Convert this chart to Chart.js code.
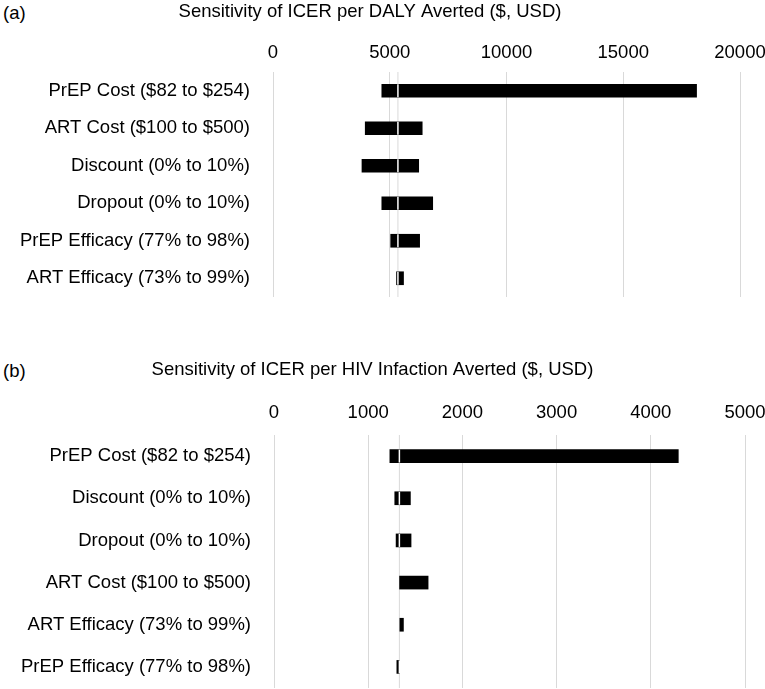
<!DOCTYPE html>
<html>
<head>
<meta charset="utf-8">
<script src="https://cdn.jsdelivr.net/npm/chart.js@4.4.0/dist/chart.umd.min.js"></script>
<style>
  body { margin: 0; background: #fff; font-family: "Liberation Sans", Arial, sans-serif; }
  .wrap { position: relative; width: 765px; height: 689px; }
  .panel { position: absolute; left: 0; }
  .tag { position: absolute; left: 3px; font-size: 18.5px; line-height: 22px; color: #000; }
</style>
</head>
<body>
<div class="wrap">
  <div class="tag" style="top:2px">(a)</div>
  <canvas id="dalyChart" class="panel" width="765" height="300" style="top:0"></canvas>
  <div class="tag" style="top:360px">(b)</div>
  <canvas id="hivChart" class="panel" width="765" height="333" style="top:356px"></canvas>
</div>
<script>
// Panel (a): ICER per DALY averted
const dalyTitle = "Sensitivity of ICER per DALY Averted ($, USD)";
const dalyLabels = ["PrEP Cost ($82 to $254)", "ART Cost ($100 to $500)", "Discount (0% to 10%)",
  "Dropout (0% to 10%)", "PrEP Efficacy (77% to 98%)", "ART Efficacy (73% to 99%)"];
const dalyLow = [4660, 3950, 3810, 4660, 5040, 5290];
const dalyHigh = [18140, 6390, 6240, 6840, 6280, 5590];
const dalyBase = 5350;
const dalyTicks = [0, 5000, 10000, 15000, 20000];

// Panel (b): ICER per HIV infection averted
const hivTitle = "Sensitivity of ICER per HIV Infaction Averted ($, USD)";
const hivLabels = ["PrEP Cost ($82 to $254)", "Discount (0% to 10%)", "Dropout (0% to 10%)",
  "ART Cost ($100 to $500)", "ART Efficacy (73% to 99%)", "PrEP Efficacy (77% to 98%)"];
const hivLow = [1230, 1282, 1296, 1333, 1336, 1304];
const hivHigh = [4292, 1448, 1455, 1636, 1374, 1331];
const hivBase = 1331;
const hivTicks = [0, 1000, 2000, 3000, 4000, 5000];

const FONT = "'Liberation Sans', Arial, sans-serif";
const FONT_SIZE = 18.5;

// Draws the base case line: grey across the plot, white where it crosses a bar
const baseLinePlugin = {
  id: 'baseLine',
  beforeDatasetsDraw(chart, args, opts) {
    const ctx = chart.ctx, area = chart.chartArea;
    const x = chart.scales.x.getPixelForValue(opts.value);
    ctx.save();
    ctx.strokeStyle = '#d9d9d9';
    ctx.lineWidth = 1;
    ctx.beginPath();
    ctx.moveTo(x, area.top);
    ctx.lineTo(x, area.bottom);
    ctx.stroke();
    ctx.restore();
  },
  afterDatasetsDraw(chart, args, opts) {
    const ctx = chart.ctx;
    const x = chart.scales.x.getPixelForValue(opts.value);
    ctx.save();
    ctx.strokeStyle = '#ffffff';
    ctx.lineWidth = 1.5;
    chart.getDatasetMeta(0).data.forEach(function (bar) {
      const p = bar.getProps(['x', 'y', 'base', 'height'], true);
      const lo = Math.min(p.x, p.base), hi = Math.max(p.x, p.base);
      if (x >= lo && x <= hi) {
        ctx.beginPath();
        ctx.moveTo(x, p.y - p.height / 2);
        ctx.lineTo(x, p.y + p.height / 2);
        ctx.stroke();
      }
    });
    ctx.restore();
  }
};

function makeChart(id, cfg) {
  const ticks = cfg.ticks;
  return new Chart(document.getElementById(id), {
    type: 'bar',
    data: {
      labels: cfg.labels,
      datasets: [{
        data: cfg.low.map(function (v, i) { return [v, cfg.high[i]]; }),
        backgroundColor: '#000000',
        borderWidth: 0,
        barThickness: 13
      }]
    },
    options: {
      indexAxis: 'y',
      responsive: false,
      animation: false,
      layout: { padding: { left: 0, right: cfg.padRight, top: 0, bottom: cfg.padBottom } },
      plugins: {
        legend: { display: false },
        tooltip: { enabled: false },
        title: {
          display: true,
          text: cfg.title,
          color: '#000',
          font: { family: FONT, size: FONT_SIZE, weight: 'normal' },
          padding: { top: cfg.titleTop, bottom: cfg.titleBottom }
        },
        baseLine: { value: cfg.base }
      },
      scales: {
        x: {
          position: 'top',
          min: ticks[0],
          max: ticks[ticks.length - 1],
          afterBuildTicks: function (scale) {
            scale.ticks = ticks.map(function (v) { return { value: v }; });
          },
          afterFit: function (scale) {
            // keep the plot edges where the reference has them
            scale.height = cfg.axisTop;
            scale.paddingLeft = 0;
            scale.paddingRight = 0;
          },
          ticks: {
            color: '#000',
            font: { family: FONT, size: FONT_SIZE },
            padding: cfg.tickPad,
            maxRotation: 0,
            callback: function (v) { return String(v); }
          },
          grid: { color: '#d9d9d9', lineWidth: 1, drawTicks: false },
          border: { display: false }
        },
        y: {
          afterFit: function (scale) {
            scale.width = cfg.axisLeft;
            scale.paddingTop = 0;
            scale.paddingBottom = 0;
          },
          ticks: {
            color: '#000',
            font: { family: FONT, size: FONT_SIZE },
            padding: 23
          },
          grid: { display: false, drawTicks: false },
          border: { display: false }
        }
      }
    },
    plugins: [baseLinePlugin]
  });
}

makeChart('dalyChart', {
  title: dalyTitle, labels: dalyLabels, low: dalyLow, high: dalyHigh, base: dalyBase, ticks: dalyTicks,
  axisLeft: 273, axisTop: 32.2, padRight: 25, padBottom: 3, titleTop: 1, titleBottom: 16.6, tickPad: 8
});

makeChart('hivChart', {
  title: hivTitle, labels: hivLabels, low: hivLow, high: hivHigh, base: hivBase, ticks: hivTicks,
  axisLeft: 274, axisTop: 35.2, padRight: 20, padBottom: 1, titleTop: 3, titleBottom: 18.6, tickPad: 11
});
</script>
</body>
</html>
